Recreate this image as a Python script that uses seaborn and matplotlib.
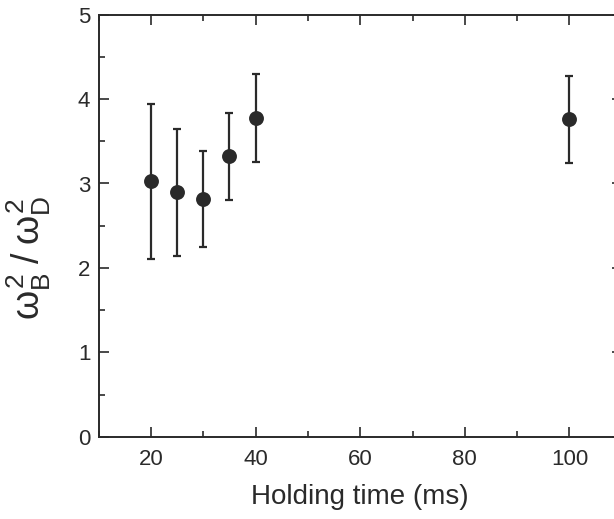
import numpy as np
import pandas as pd
import matplotlib
matplotlib.use("Agg")
import matplotlib.pyplot as plt
import seaborn as sns
from matplotlib.ticker import MultipleLocator

# data
hold_time = [20, 25, 30, 35, 40, 100]
ratio = [3.03, 2.90, 2.82, 3.32, 3.78, 3.76]
err_low = [2.11, 2.14, 2.25, 2.80, 3.25, 3.24]
err_high = [3.94, 3.65, 3.39, 3.84, 4.30, 4.27]

df = pd.DataFrame({"t": hold_time, "r": ratio})

sns.set_style("ticks")
plt.rcParams["font.family"] = ["Liberation Sans", "DejaVu Sans"]
plt.rcParams["mathtext.fontset"] = "custom"
plt.rcParams["mathtext.rm"] = "Liberation Sans"
plt.rcParams["mathtext.it"] = "Liberation Sans"

ink = "#2a2a2a"
fig = plt.figure(figsize=(6.14, 5.19), dpi=100)
# right spine sits just past the image edge, as in the original scan
ax = fig.add_axes([98.7 / 614, (519 - 436.7) / 519, 523 / 614, 422 / 519])

yerr = [np.array(ratio) - np.array(err_low), np.array(err_high) - np.array(ratio)]
ax.errorbar(hold_time, ratio, yerr=yerr, fmt="none", ecolor=ink,
            elinewidth=1.6, capsize=3, capthick=1.6)
sns.scatterplot(data=df, x="t", y="r", ax=ax, color=ink, s=115,
                edgecolor=ink, linewidth=0, zorder=3)

ax.set_xlim(10, 110)
ax.set_ylim(0, 5)
ax.xaxis.set_major_locator(MultipleLocator(20))
ax.xaxis.set_minor_locator(MultipleLocator(10))
ax.yaxis.set_major_locator(MultipleLocator(1))
ax.yaxis.set_minor_locator(MultipleLocator(0.5))
ax.tick_params(which="both", direction="in", top=True, right=True,
               color=ink, labelcolor=ink, labelsize=16, width=1.2)
ax.tick_params(which="major", length=7)
ax.tick_params(which="minor", length=4)
ax.tick_params(axis="x", pad=9)
ax.tick_params(axis="y", pad=6)
for s in ax.spines.values():
    s.set_color(ink)
    s.set_linewidth(1.4)

ax.set_xlabel("Holding time (ms)", fontsize=20, color=ink, labelpad=10)
ax.set_ylabel(r"$\omega^2_B\;/\;\omega^2_D$", fontsize=27, color=ink)
ax.yaxis.set_label_coords(-0.087, 0.423)

fig.savefig("out.png", dpi=100)
